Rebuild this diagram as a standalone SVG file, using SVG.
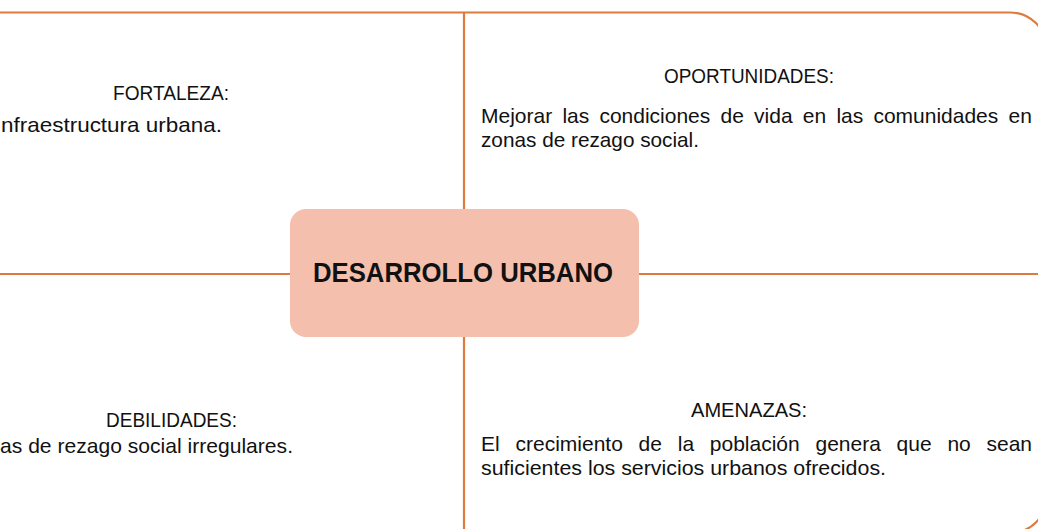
<svg xmlns="http://www.w3.org/2000/svg" width="1038" height="529" viewBox="0 0 1038 529">
<style>
.ln{stroke:#DE7A3B;stroke-width:2.2;fill:none}
.t{font-family:"Liberation Sans",Arial,sans-serif;font-size:21px;fill:#111}
.h{text-anchor:middle}
.title{font-family:"Liberation Sans",Arial,sans-serif;font-size:28px;font-weight:bold;fill:#111;text-anchor:middle}
</style>
<rect width="1038" height="529" fill="#fff"/>
<g id="connectors">
<path class="ln" d="M-60,12.5 H1010 A37,37 0 0 1 1047,49.5 V496 A37,37 0 0 1 1010,533 H-60"/>
<line class="ln" x1="464" y1="12.5" x2="464" y2="209"/>
<line class="ln" x1="464" y1="337" x2="464" y2="533"/>
<line class="ln" x1="-5" y1="274" x2="290" y2="274"/>
<line class="ln" x1="639" y1="274" x2="1047" y2="274"/>
</g>
<g id="fortaleza">
<text class="t h" x="171" y="100" textLength="116" lengthAdjust="spacingAndGlyphs">FORTALEZA:</text>
<text class="t" x="1" y="132" textLength="221" lengthAdjust="spacingAndGlyphs">nfraestructura urbana.</text>
</g>
<g id="oportunidades">
<text class="t h" x="749" y="83" textLength="170" lengthAdjust="spacingAndGlyphs">OPORTUNIDADES:</text>
<text class="t" y="123"><tspan x="481">Mejorar</tspan><tspan x="562.4">las</tspan><tspan x="599.4">condiciones</tspan><tspan x="720.5">de</tspan><tspan x="754.1">vida</tspan><tspan x="802.8">en</tspan><tspan x="836.4">las</tspan><tspan x="873.4">comunidades</tspan><tspan x="1008.5">en</tspan></text>
<text class="t" x="481" y="147" textLength="218" lengthAdjust="spacingAndGlyphs">zonas de rezago social.</text>
</g>
<g id="debilidades">
<text class="t h" x="171.5" y="427" textLength="131" lengthAdjust="spacingAndGlyphs">DEBILIDADES:</text>
<text class="t" x="0" y="453" textLength="293" lengthAdjust="spacingAndGlyphs">as de rezago social irregulares.</text>
</g>
<g id="amenazas">
<text class="t h" x="749" y="417" textLength="116" lengthAdjust="spacingAndGlyphs">AMENAZAS:</text>
<text class="t" y="451"><tspan x="481">El</tspan><tspan x="515.5">crecimiento</tspan><tspan x="638.6">de</tspan><tspan x="677.8">la</tspan><tspan x="709.8">población</tspan><tspan x="815.5">genera</tspan><tspan x="896.6">que</tspan><tspan x="947.4">no</tspan><tspan x="986.5">sean</tspan></text>
<text class="t" x="481" y="475" textLength="405" lengthAdjust="spacingAndGlyphs">suficientes los servicios urbanos ofrecidos.</text>
</g>
<g id="center">
<rect x="290" y="209" width="349" height="128" rx="16" fill="#F4C0AD"/>
<text class="title" x="463" y="282" textLength="300" lengthAdjust="spacingAndGlyphs">DESARROLLO URBANO</text>
</g>
</svg>
